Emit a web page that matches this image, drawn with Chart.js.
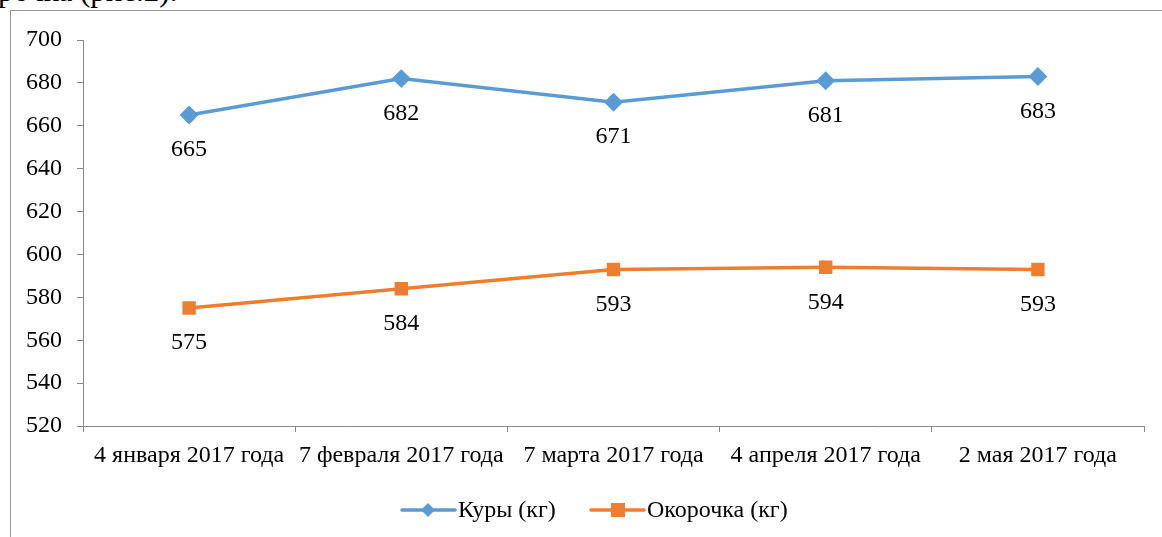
<!DOCTYPE html>
<html>
<head>
<meta charset="utf-8">
<script src="https://cdn.jsdelivr.net/npm/chart.js@4"></script>
<style>
  body { margin: 0; background: #fff; overflow: hidden; }
  #wrap { position: relative; width: 1162px; height: 537px; overflow: hidden; }
  #caption { position: absolute; left: -2px; top: -27px; font: 31px "Liberation Serif", serif; color: #000; white-space: nowrap; }
  #frame { position: absolute; left: 10px; top: 10px; width: 1200px; height: 600px; border-left: 1px solid #999; border-top: 1px solid #999; }
  canvas { position: absolute; left: 0; top: 0; }
</style>
</head>
<body>
<div id="wrap">
  <div id="caption">рочка (рис.2).</div>
  <div id="frame"></div>
  <canvas id="myChart" width="1162" height="537"></canvas>
</div>
<script>
let categories = ["4 января 2017 года", "7 февраля 2017 года", "7 марта 2017 года", "4 апреля 2017 года", "2 мая 2017 года"];
let kury = [665, 682, 671, 681, 683];
let okorochka = [575, 584, 593, 594, 593];
let seriesNames = ["Куры (кг)", "Окорочка (кг)"];
let yTicks = [520, 540, 560, 580, 600, 620, 640, 660, 680, 700];

let serif = "Liberation Serif";
let blue = "#5B9BD5";
let orange = "#ED7D31";

// value labels under every point
let valueLabels = {
  id: "valueLabels",
  afterDatasetsDraw(chart) {
    let ctx = chart.ctx;
    ctx.save();
    ctx.font = "24px '" + serif + "'";
    ctx.fillStyle = "#000";
    ctx.textAlign = "center";
    ctx.textBaseline = "middle";
    chart.data.datasets.forEach((ds, i) => {
      chart.getDatasetMeta(i).data.forEach((pt, j) => {
        ctx.fillText(ds.data[j], pt.x, pt.y + 35);
      });
    });
    ctx.restore();
  }
};

// legend: line with marker in the middle, then the name
let lineLegend = {
  id: "lineLegend",
  afterDraw(chart) {
    let ctx = chart.ctx;
    let items = [
      { name: seriesNames[0], color: blue, style: "rectRot", x: 402 },
      { name: seriesNames[1], color: orange, style: "rect", x: 591 }
    ];
    let y = 510;
    ctx.save();
    ctx.font = "24px '" + serif + "'";
    ctx.textBaseline = "middle";
    items.forEach(it => {
      ctx.strokeStyle = it.color;
      ctx.lineWidth = 3.5;
      ctx.lineCap = "round";
      ctx.beginPath();
      ctx.moveTo(it.x, y);
      ctx.lineTo(it.x + 53, y);
      ctx.stroke();
      ctx.fillStyle = it.color;
      if (it.style === "rect") {
        ctx.fillRect(it.x + 20, y - 7, 14, 14);
      } else {
        ctx.beginPath();
        ctx.moveTo(it.x + 26, y - 7);
        ctx.lineTo(it.x + 33, y);
        ctx.lineTo(it.x + 26, y + 7);
        ctx.lineTo(it.x + 19, y);
        ctx.closePath();
        ctx.fill();
      }
      ctx.fillStyle = "#000";
      ctx.fillText(it.name, it.x + 56, y + 1);
    });
    ctx.restore();
  }
};

new Chart(document.getElementById("myChart"), {
  type: "line",
  data: {
    labels: categories,
    datasets: [
      {
        label: seriesNames[0],
        data: kury,
        borderColor: blue,
        backgroundColor: blue,
        borderWidth: 3.5,
        pointStyle: "rectRot",
        pointRadius: 7,
        pointHoverRadius: 7,
        tension: 0
      },
      {
        label: seriesNames[1],
        data: okorochka,
        borderColor: orange,
        backgroundColor: orange,
        borderWidth: 3.5,
        pointStyle: "rect",
        pointRadius: 7,
        pointHoverRadius: 7,
        tension: 0
      }
    ]
  },
  options: {
    responsive: false,
    animation: false,
    layout: { padding: { left: 10, right: 18, top: 40, bottom: 0 } },
    plugins: {
      legend: { display: false },
      tooltip: { enabled: false }
    },
    scales: {
      x: {
        offset: true,
        grid: { offset: true, drawOnChartArea: false, drawTicks: true, tickLength: 6, color: "#888" },
        border: { color: "#888", width: 1 },
        ticks: { color: "#000", font: { family: serif, size: 24 }, padding: 9, maxRotation: 0, autoSkip: false },
        afterFit(scale) { scale.height = 111; }
      },
      y: {
        min: 520,
        max: 700,
        afterBuildTicks(scale) { scale.ticks = yTicks.map(v => ({ value: v })); },
        grid: { drawOnChartArea: false, drawTicks: true, tickLength: 6, color: "#888" },
        border: { color: "#888", width: 1 },
        ticks: { color: "#000", font: { family: serif, size: 24 }, padding: 15 },
        afterFit(scale) { scale.width = 73; }
      }
    }
  },
  plugins: [valueLabels, lineLegend]
});
</script>
</body>
</html>
